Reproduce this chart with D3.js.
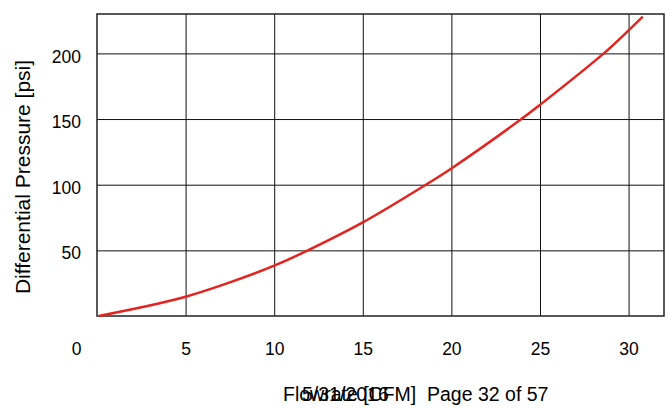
<!DOCTYPE html>
<html>
<head>
<meta charset="utf-8">
<script src="https://cdn.jsdelivr.net/npm/d3@7"></script>
<style>
body { margin: 0; background: #fff; }
svg { display: block; font-family: "Liberation Sans", Arial, Helvetica, sans-serif; }
</style>
</head>
<body>
<svg id="chart" width="670" height="408"></svg>
<script>
// pressure drop vs flow
var flow = [0.1, 2.5, 5, 7.5, 10, 11.9, 15, 18.56, 20, 23.95, 25, 28.6, 30, 30.8];
var dp = [0, 6.6, 14.7, 25.6, 38.3, 50, 71.3, 100, 112.4, 150, 160.8, 200, 217.5, 228];
var xTicks = [0, 5, 10, 15, 20, 25, 30];
var yTicks = [50, 100, 150, 200];

var svg = d3.select("#chart");
// note: "top" is a reserved window prop, so use plot_* names
var plot_left = 97, plot_top = 14, plot_right = 664, plot_bottom = 316;
var width = plot_right - plot_left, height = plot_bottom - plot_top;

var x = d3.scaleLinear().domain([0, 32]).range([0, width]);
var y = d3.scaleLinear().domain([0, 230]).range([height, 0]);

var g = svg.append("g").attr("transform", "translate(" + plot_left + "," + plot_top + ")");

// y grid + labels
var yAxis = g.append("g")
	.call(d3.axisLeft(y).tickValues(yTicks).tickSize(-width).tickPadding(16));
yAxis.select(".domain").remove();
yAxis.selectAll("line").attr("stroke", "#111").attr("stroke-width", 1);
yAxis.selectAll("text")
	.attr("fill", "#000")
	.attr("font-size", "17.5px")
	.attr("font-family", "Liberation Sans, Arial, sans-serif")
	.attr("dy", "0.32em")
	.attr("transform", "translate(0,3)");

// x grid + labels
var xAxis = g.append("g")
	.attr("transform", "translate(0," + height + ")")
	.call(d3.axisBottom(x).tickValues(xTicks).tickSize(-height).tickPadding(27));
xAxis.select(".domain").remove();
xAxis.selectAll("line").attr("stroke", "#111").attr("stroke-width", 1);
xAxis.selectAll(".tick").filter(d => d === 0).select("line").remove();
xAxis.selectAll("text")
	.attr("fill", "#000")
	.attr("font-size", "17.5px")
	.attr("font-family", "Liberation Sans, Arial, sans-serif");
xAxis.selectAll(".tick").filter(d => d === 0).select("text")
	.attr("text-anchor", "end")
	.attr("x", -16);

// frame
g.append("rect")
	.attr("x", 0).attr("y", 0)
	.attr("width", width).attr("height", height)
	.attr("fill", "none")
	.attr("stroke", "#222")
	.attr("stroke-width", 1.5);

// curve
var line = d3.line()
	.x((d, i) => x(flow[i]))
	.y(d => y(d))
	.curve(d3.curveCatmullRom);
g.append("path")
	.datum(dp)
	.attr("d", line)
	.attr("fill", "none")
	.attr("stroke", "#e5231e")
	.attr("stroke-width", 2.5);

// axis titles
svg.append("text")
	.attr("transform", "translate(30,177) rotate(-90)")
	.attr("text-anchor", "middle")
	.attr("font-size", "21px")
	.text("Differential Pressure [psi]");

svg.append("text")
	.attr("x", 283).attr("y", 401)
	.attr("font-size", "19.5px")
	.text("Flowrate [CFM]");

// page footer bleeding over the title
svg.append("text")
	.attr("x", 302).attr("y", 401)
	.attr("font-size", "19.5px")
	.text("5/31/2016");
svg.append("text")
	.attr("x", 427).attr("y", 401)
	.attr("font-size", "19.5px")
	.text("Page 32 of 57");
</script>
</body>
</html>
